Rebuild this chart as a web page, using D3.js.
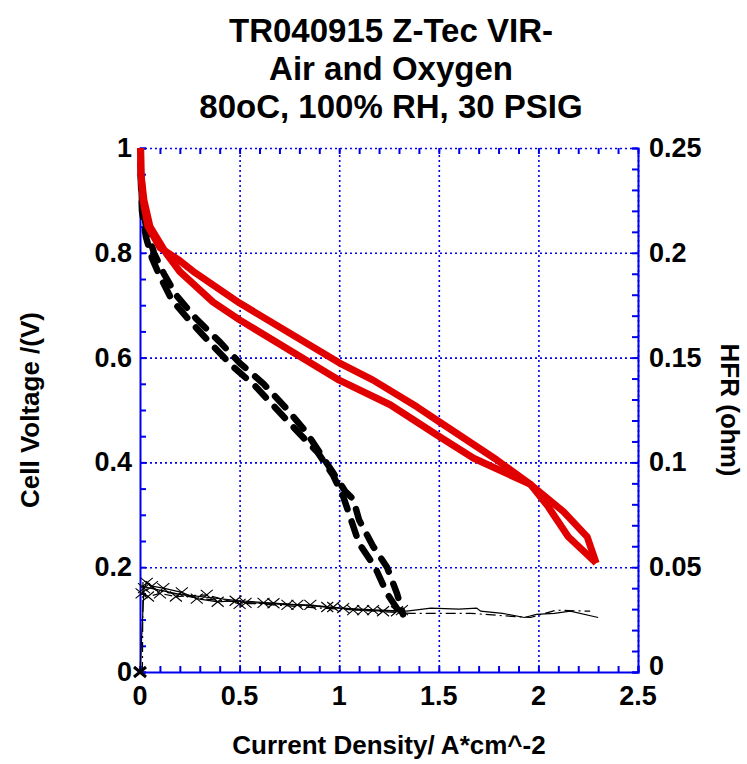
<!DOCTYPE html>
<html>
<head>
<meta charset="utf-8">
<script src="https://cdn.jsdelivr.net/npm/d3@7"></script>
<style>
  body { margin: 0; background: #fff; }
  text { font-family: "Liberation Sans", Arial, sans-serif; font-weight: bold; fill: #000; }
  .grid line { stroke: #0000ee; stroke-width: 1.6; stroke-dasharray: 2,3; }
  .grid path { display: none; }
  .frame line, .frame path { stroke: #0000ee; stroke-width: 2; }
</style>
</head>
<body>
<div id="chart"></div>
<script>
// voltage sweeps, oxygen (red) - two branches of the scan
var o2UpX = [0.003, 0.005, 0.015, 0.04, 0.1, 0.2, 0.276, 0.5, 1.0, 1.17, 1.39, 1.5, 1.79, 1.96, 2.05, 2.15, 2.29];
var o2UpV = [1.0, 0.95, 0.9, 0.85, 0.81, 0.785, 0.762, 0.704, 0.59, 0.557, 0.506, 0.478, 0.405, 0.358, 0.315, 0.258, 0.208];
var o2LoX = [0.003, 0.005, 0.02, 0.05, 0.13, 0.2, 0.367, 0.5, 1.0, 1.256, 1.5, 1.675, 1.96, 2.126, 2.245, 2.29];
var o2LoV = [1.0, 0.95, 0.9, 0.85, 0.8, 0.764, 0.706, 0.672, 0.557, 0.51, 0.45, 0.408, 0.358, 0.306, 0.258, 0.208];

// voltage sweeps, air (black dashed)
var airAX = [0.003, 0.01, 0.03, 0.07, 0.12, 0.18, 0.28, 0.4, 0.5, 0.62, 0.73, 0.83, 0.9, 0.97, 1.03, 1.07, 1.1, 1.17, 1.24, 1.29, 1.32];
var airAV = [0.97, 0.9, 0.85, 0.8, 0.76, 0.72, 0.675, 0.63, 0.59, 0.55, 0.505, 0.46, 0.42, 0.38, 0.345, 0.33, 0.29, 0.24, 0.2, 0.15, 0.11];
var airBX = [0.003, 0.01, 0.03, 0.06, 0.1, 0.16, 0.25, 0.36, 0.46, 0.58, 0.69, 0.8, 0.89, 0.97, 1.02, 1.06, 1.1, 1.18, 1.24, 1.31];
var airBV = [0.95, 0.88, 0.83, 0.79, 0.755, 0.71, 0.67, 0.625, 0.585, 0.545, 0.5, 0.455, 0.42, 0.375, 0.335, 0.29, 0.245, 0.2, 0.15, 0.11];

// HFR (ohm), right axis
var airHfr1X = [0, 0.02, 0.034, 0.06, 0.117, 0.21, 0.285, 0.39, 0.48, 0.53, 0.62, 0.74, 0.855, 0.94, 1.02, 1.12, 1.22, 1.315];
var airHfr1 = [0, 0.04, 0.0425, 0.041, 0.04, 0.038, 0.035, 0.0335, 0.034, 0.033, 0.033, 0.032, 0.032, 0.031, 0.0305, 0.0295, 0.029, 0.0295];
var airHfr2X = [0.008, 0.04, 0.1, 0.18, 0.335, 0.5, 0.67, 0.79, 0.97, 1.07, 1.17, 1.29];
var airHfr2 = [0.0375, 0.036, 0.0375, 0.036, 0.0368, 0.0325, 0.0328, 0.032, 0.031, 0.0295, 0.0295, 0.029];
var o2Hfr1X = [0.01, 0.05, 0.2, 0.5, 0.8, 1.0, 1.2, 1.34, 1.46, 1.6, 1.69, 1.71, 1.82, 1.93, 1.99, 2.08, 2.16, 2.3];
var o2Hfr1 = [0.041, 0.04, 0.037, 0.034, 0.032, 0.0305, 0.0295, 0.029, 0.0305, 0.030, 0.0305, 0.029, 0.028, 0.026, 0.0275, 0.028, 0.029, 0.026];
var o2Hfr2X = [0.012, 0.015, 0.08, 0.3, 0.6, 0.9, 1.1, 1.357, 1.5, 1.66, 1.8, 1.96, 2.09, 2.26];
var o2Hfr2 = [0.0, 0.044, 0.039, 0.035, 0.0325, 0.0305, 0.0295, 0.028, 0.028, 0.028, 0.027, 0.026, 0.0295, 0.029];

var xTicks = [0, 0.5, 1, 1.5, 2, 2.5];
var yTicks = [0, 0.2, 0.4, 0.6, 0.8, 1];
var rTicks = [0, 0.05, 0.1, 0.15, 0.2, 0.25];

var W = 747, H = 764;
var margin = { top: 148, right: 109, bottom: 92, left: 140 };
var pw = W - margin.left - margin.right;
var ph = H - margin.top - margin.bottom;

var svg = d3.select("#chart").append("svg")
    .attr("width", W).attr("height", H);

var x = d3.scaleLinear().domain([0, 2.5]).range([0, pw]);
var yL = d3.scaleLinear().domain([0, 1]).range([ph, 0]);
var yR = d3.scaleLinear().domain([0, 0.25]).range([ph, 0]);

var plot = svg.append("g")
    .attr("transform", "translate(" + margin.left + "," + margin.top + ")");

// gridlines
plot.append("g").attr("class", "grid")
    .attr("transform", "translate(0," + ph + ")")
    .call(d3.axisBottom(x).tickValues(xTicks.slice(1)).tickSize(-ph).tickFormat(""));
plot.append("g").attr("class", "grid")
    .call(d3.axisLeft(yL).tickValues(yTicks.slice(1)).tickSize(-pw).tickFormat(""));

// frame and minor ticks
function frame(g) {
    g.attr("class", "frame");
    g.selectAll("text").remove();
}
plot.append("g").attr("transform", "translate(0," + ph + ")")
    .call(d3.axisBottom(x).tickValues(d3.range(0, 26).map(function(i) { return i / 10; })).tickSize(-6).tickFormat(""))
    .call(frame);
plot.append("g")
    .call(d3.axisTop(x).tickValues(d3.range(0, 26).map(function(i) { return i / 10; })).tickSize(-6).tickFormat(""))
    .call(frame)
    .select("path").remove();
plot.append("g")
    .call(d3.axisLeft(yL).tickValues(d3.range(0, 21).map(function(i) { return i / 20; })).tickSize(-6).tickFormat(""))
    .call(frame);
plot.append("g").attr("transform", "translate(" + pw + ",0)")
    .call(d3.axisRight(yR).tickValues(d3.range(0, 26).map(function(i) { return i / 100; })).tickSize(-6).tickFormat(""))
    .call(frame);

// tick labels
var fmt = function(d) { return String(d); };
plot.append("g").selectAll("text").data(xTicks).enter().append("text")
    .attr("x", function(d) { return x(d); })
    .attr("y", ph + 33)
    .attr("text-anchor", "middle")
    .style("font-size", "27px")
    .text(fmt);
plot.append("g").selectAll("text").data(yTicks).enter().append("text")
    .attr("x", -8)
    .attr("y", function(d) { return yL(d) + 9; })
    .attr("text-anchor", "end")
    .style("font-size", "27px")
    .text(fmt);
plot.append("g").selectAll("text").data(rTicks).enter().append("text")
    .attr("x", pw + 11)
    // bottom label lifted a little so it clears "2.5"
    .attr("y", function(d) { return yR(d) + (d === 0 ? 3 : 9); })
    .attr("text-anchor", "start")
    .style("font-size", "27px")
    .text(fmt);

// data lines
function pairs(xs, ys) { return xs.map(function(v, i) { return [v, ys[i]]; }); }
var lineL = d3.line().x(function(d) { return x(d[0]); }).y(function(d) { return yL(d[1]); });
var lineR = d3.line().x(function(d) { return x(d[0]); }).y(function(d) { return yR(d[1]); });

var hfr = plot.append("g");
hfr.append("path").attr("d", lineR(pairs(o2Hfr1X, o2Hfr1)))
    .attr("fill", "none").attr("stroke", "#000").attr("stroke-width", 1.2);
hfr.append("path").attr("d", lineR(pairs(o2Hfr2X, o2Hfr2)))
    .attr("fill", "none").attr("stroke", "#000").attr("stroke-width", 1.2).attr("stroke-dasharray", "10,4,2,4");
hfr.append("path").attr("d", lineR(pairs(airHfr1X, airHfr1)))
    .attr("fill", "none").attr("stroke", "#000").attr("stroke-width", 1.2);
hfr.append("path").attr("d", lineR(pairs(airHfr2X, airHfr2)))
    .attr("fill", "none").attr("stroke", "#000").attr("stroke-width", 1.2).attr("stroke-dasharray", "8,4");

var markers = pairs(airHfr1X, airHfr1).concat(pairs(airHfr2X, airHfr2));
hfr.selectAll("path.mk").data(markers).enter().append("path")
    .attr("class", "mk")
    .attr("d", "M-6,-5L6,5M-6,5L6,-5")
    .attr("transform", function(d) { return "translate(" + x(d[0]) + "," + yR(d[1]) + ")"; })
    .attr("stroke", "#000")
    .attr("stroke-width", function(d) { return d[1] === 0 ? 3 : 1.1; })
    .attr("fill", "none");

var air = plot.append("g");
[pairs(airAX, airAV), pairs(airBX, airBV)].forEach(function(d) {
    air.append("path").attr("d", lineL(d))
        .attr("fill", "none").attr("stroke", "#000").attr("stroke-width", 6.5)
        .attr("stroke-linecap", "round").attr("stroke-dasharray", "15,13");
});

var o2 = plot.append("g");
[pairs(o2UpX, o2UpV), pairs(o2LoX, o2LoV)].forEach(function(d) {
    o2.append("path").attr("d", lineL(d))
        .attr("fill", "none").attr("stroke", "#e00000").attr("stroke-width", 7)
        .attr("stroke-linejoin", "round");
});

// titles
var title = ["TR040915 Z-Tec VIR-", "Air and Oxygen", "80oC, 100% RH, 30 PSIG"];
svg.append("g").selectAll("text").data(title).enter().append("text")
    .attr("x", 391)
    .attr("y", function(d, i) { return 42 + i * 38; })
    .attr("text-anchor", "middle")
    .style("font-size", "33px")
    .text(function(d) { return d; });

svg.append("text")
    .attr("x", margin.left + pw / 2)
    .attr("y", 754)
    .attr("text-anchor", "middle")
    .style("font-size", "26px")
    .text("Current Density/ A*cm^-2");

svg.append("text")
    .attr("transform", "translate(39," + (margin.top + ph / 2) + ") rotate(-90)")
    .attr("text-anchor", "middle")
    .style("font-size", "26px")
    .text("Cell Voltage /(V)");

svg.append("text")
    .attr("transform", "translate(721," + (margin.top + ph / 2) + ") rotate(90)")
    .attr("text-anchor", "middle")
    .style("font-size", "26px")
    .text("HFR (ohm)");
</script>
</body>
</html>
